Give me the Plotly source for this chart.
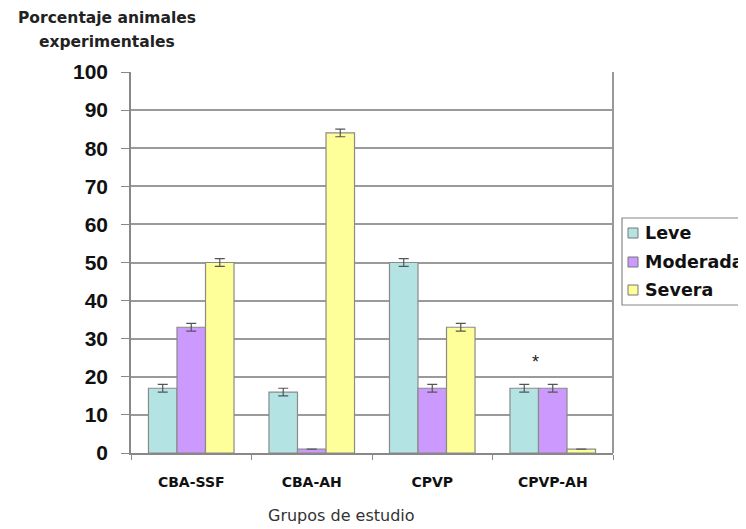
import plotly.graph_objects as go

categories = ["CBA-SSF", "CBA-AH", "CPVP", "CPVP-AH"]
leve = [17, 16, 50, 17]
moderada = [33, 1, 17, 17]
severa = [50, 84, 33, 1]
err_leve = [1, 1, 1, 1]
err_moderada = [1, 0, 1, 1]
err_severa = [1, 1, 1, 0]
series_names = ["Leve", "Moderada", "Severa"]
colors = ["#b4e3e3", "#cc99ff", "#ffff99"]

BOLD = "DejaVu Sans"

# page body has an 8px margin; figure coords = page coords - 8
L, T, W, H = 123, 64, 482, 381   # plot area in figure pixels
FIG_W, FIG_H = 738, 521


def px(xpage):
    return (xpage - 8 - L) / W


def py(ypage):
    return (T + H - (ypage - 8)) / H


fig = go.Figure()
for name, vals, errs, col in zip(series_names, [leve, moderada, severa],
                                 [err_leve, err_moderada, err_severa], colors):
    fig.add_trace(go.Bar(
        name=name, x=categories, y=vals, showlegend=False,
        marker=dict(color=col, line=dict(color="#8a8a8a", width=1.2)),
        error_y=dict(type="data", array=errs, visible=True, color="#555555",
                     thickness=1.2, width=5),
    ))

fig.add_annotation(x="CPVP-AH", y=24, text="*", showarrow=False, xshift=-17,
                   font=dict(family="Liberation Sans, Arial", size=18, color="#222222"))

fig.update_layout(
    width=FIG_W, height=FIG_H,
    margin=dict(l=L, r=FIG_W - L - W, t=T, b=FIG_H - T - H, autoexpand=False),
    paper_bgcolor="white", plot_bgcolor="white",
    barmode="group", bargap=0.29, bargroupgap=0,
    font=dict(family="Liberation Sans, Arial", color="#111111"),
    showlegend=False,
    xaxis=dict(
        automargin=False,
        showline=True, linecolor="#888888", linewidth=1.5, mirror=False,
        ticks="outside", tickson="boundaries", ticklen=5, tickcolor="#888888",
        ticklabelstandoff=15,
        tickfont=dict(size=14, family=BOLD, weight="bold", color="#111111"),
    ),
    yaxis=dict(
        automargin=False,
        range=[0, 100], dtick=10, showgrid=True, gridcolor="#9a9a9a", gridwidth=1.8,
        showline=True, linecolor="#888888", linewidth=1.5,
        ticks="outside", ticklen=8, tickcolor="#888888", ticklabelstandoff=9,
        tickfont=dict(size=21, weight="bold", color="#111111"),
        zeroline=False,
    ),
)
# right border of plot area
fig.add_shape(type="line", xref="paper", yref="paper", x0=1, x1=1, y0=0, y1=1,
              line=dict(color="#999999", width=2))

# legend box (drawn to match the reference, which runs off the right edge)
fig.add_shape(type="rect", xref="paper", yref="paper",
              x0=px(622), x1=px(790), y0=py(305), y1=py(218),
              line=dict(color="#888888", width=1.2), fillcolor="white")
for name, col, yc in zip(series_names, colors, [233, 262, 290]):
    fig.add_shape(type="rect", xref="paper", yref="paper",
                  x0=px(628), x1=px(638), y0=py(yc + 5), y1=py(yc - 5),
                  line=dict(color="#777777", width=1), fillcolor=col)
    fig.add_annotation(xref="paper", yref="paper", x=px(643), y=py(yc),
                       xanchor="left", yanchor="middle", showarrow=False,
                       text=name,
                       font=dict(size=17.5, family=BOLD, weight="bold", color="#111111"))

fig.add_annotation(xref="paper", yref="paper", x=px(107), y=py(18),
                   xanchor="center", yanchor="middle", showarrow=False,
                   text="Porcentaje animales",
                   font=dict(size=15.5, family=BOLD, weight="bold", color="#222222"))
fig.add_annotation(xref="paper", yref="paper", x=px(107), y=py(42),
                   xanchor="center", yanchor="middle", showarrow=False,
                   text="experimentales",
                   font=dict(size=15.5, family=BOLD, weight="bold", color="#222222"))

fig.add_annotation(xref="paper", yref="paper", x=px(341), y=py(515),
                   xanchor="center", yanchor="middle", showarrow=False,
                   text="Grupos de estudio",
                   font=dict(size=16, family=BOLD, color="#333333"))

fig.write_html("out.html")
